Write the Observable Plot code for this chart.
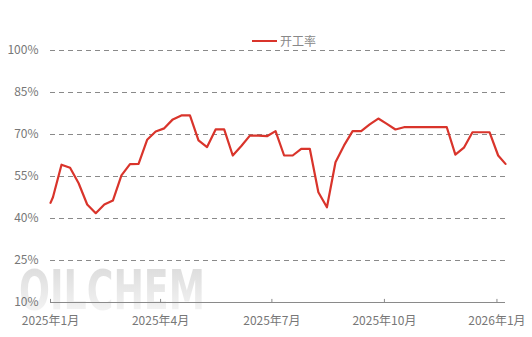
<!DOCTYPE html>
<html>
<head>
<meta charset="utf-8">
<script src="https://cdn.jsdelivr.net/npm/d3@7"></script>
<script src="https://cdn.jsdelivr.net/npm/@observablehq/plot@0.6"></script>
<style>
  html, body { margin: 0; padding: 0; background: #fff; }
  #wrap { position: relative; width: 532px; height: 337px; overflow: hidden; }
  #wm { position: absolute; left: 19px; top: 262px; font-family: "DejaVu Sans", sans-serif; font-size: 56px; font-weight: bold;
        letter-spacing: 0px; transform: scaleX(0.65); transform-origin: left top; line-height: 1;
        background: linear-gradient(to bottom, #dadada, #f6f6f6); -webkit-background-clip: text; background-clip: text; color: transparent; }
  #chart { position: absolute; left: 0; top: 0; }
  #legend { position: absolute; left: 252px; top: 32px; display: flex; align-items: center;
            font-family: "Noto Sans CJK SC", sans-serif; font-size: 12px; color: #888; }
  #legend .sw { width: 25px; height: 2px; background: #d9342b; margin-right: 3px; }
</style>
</head>
<body>
<div id="wrap">
  <div id="wm">OILCHEM</div>
  <div id="chart"></div>
  <div id="legend"><span class="sw"></span><span>开工率</span></div>
</div>
<script>
const seriesName = "开工率";
const dates = [
  "2025-01-01","2025-01-03","2025-01-10","2025-01-17","2025-01-24","2025-01-31",
  "2025-02-07","2025-02-14","2025-02-21","2025-02-28",
  "2025-03-07","2025-03-14","2025-03-21","2025-03-28",
  "2025-04-04","2025-04-11","2025-04-18","2025-04-25",
  "2025-05-02","2025-05-09","2025-05-16","2025-05-23","2025-05-30",
  "2025-06-06","2025-06-13","2025-06-20","2025-06-27",
  "2025-07-04","2025-07-11","2025-07-18","2025-07-25",
  "2025-08-01","2025-08-08","2025-08-15","2025-08-22","2025-08-29",
  "2025-09-05","2025-09-12","2025-09-19","2025-09-26",
  "2025-10-03","2025-10-10","2025-10-17","2025-10-24","2025-10-31",
  "2025-11-07","2025-11-14","2025-11-21","2025-11-28",
  "2025-12-05","2025-12-12","2025-12-19","2025-12-26",
  "2026-01-02","2026-01-08"
];
const values = [
  45.6, 47.6, 59.2, 58.1, 52.6, 45.0,
  41.9, 45.0, 46.4, 55.4,
  59.4, 59.5, 68.1, 71.1,
  72.2, 75.4, 76.8, 76.8,
  67.9, 65.5, 71.8, 71.8, 62.5,
  65.9, 69.6, 69.6, 69.4,
  71.2, 62.5, 62.5, 64.9,
  64.9, 49.4, 44.0, 60.1, 66.1,
  71.2, 71.2, 73.6, 75.7,
  73.8, 71.8, 72.6, 72.6, 72.6,
  72.6, 72.6, 72.6, 62.8,
  65.3, 70.8, 70.8, 70.8,
  62.5, 59.5
];
const yTicks = [10, 25, 40, 55, 70, 85, 100];
const xTickDates = ["2025-01-01", "2025-04-01", "2025-07-01", "2025-10-01", "2026-01-01"];
const xDomain = ["2025-01-01", "2026-01-08"];

const parse = d3.utcParse("%Y-%m-%d");
const data = dates.map((d, i) => ({date: parse(d), value: values[i]}));
const xTicks = xTickDates.map(parse);
const fmtX = d => `${d.getUTCFullYear()}年${d.getUTCMonth() + 1}月`;

const chart = Plot.plot({
  width: 532,
  height: 337,
  marginLeft: 50,
  marginRight: 27,
  marginTop: 50,
  marginBottom: 35,
  style: {background: "transparent", fontFamily: "'Noto Sans CJK SC', sans-serif", fontSize: "12px", color: "#777"},
  x: {type: "utc", domain: xDomain.map(parse)},
  y: {domain: [10, 100]},
  marks: [
    Plot.ruleY(yTicks.filter(t => t > 10), {stroke: "#8a8a8a", strokeWidth: 1.2, strokeDasharray: "5,4"}),
    Plot.ruleY([10], {stroke: "#8a8a8a", strokeWidth: 1.2}),
    Plot.ruleX(xTicks, {y1: 10, y2: 11.1, stroke: "#8a8a8a", strokeWidth: 1}),
    Plot.axisY({ticks: yTicks, tickSize: 0, tickPadding: 12, tickFormat: d => d + "%", label: null, fill: "#777"}),
    Plot.axisX({ticks: xTicks, tickSize: 0, tickPadding: 14, tickFormat: fmtX, label: null, fill: "#777"}),
    Plot.line(data, {x: "date", y: "value", stroke: "#d9342b", strokeWidth: 2.2, curve: "linear"})
  ]
});
document.getElementById("chart").appendChild(chart);
</script>
</body>
</html>
